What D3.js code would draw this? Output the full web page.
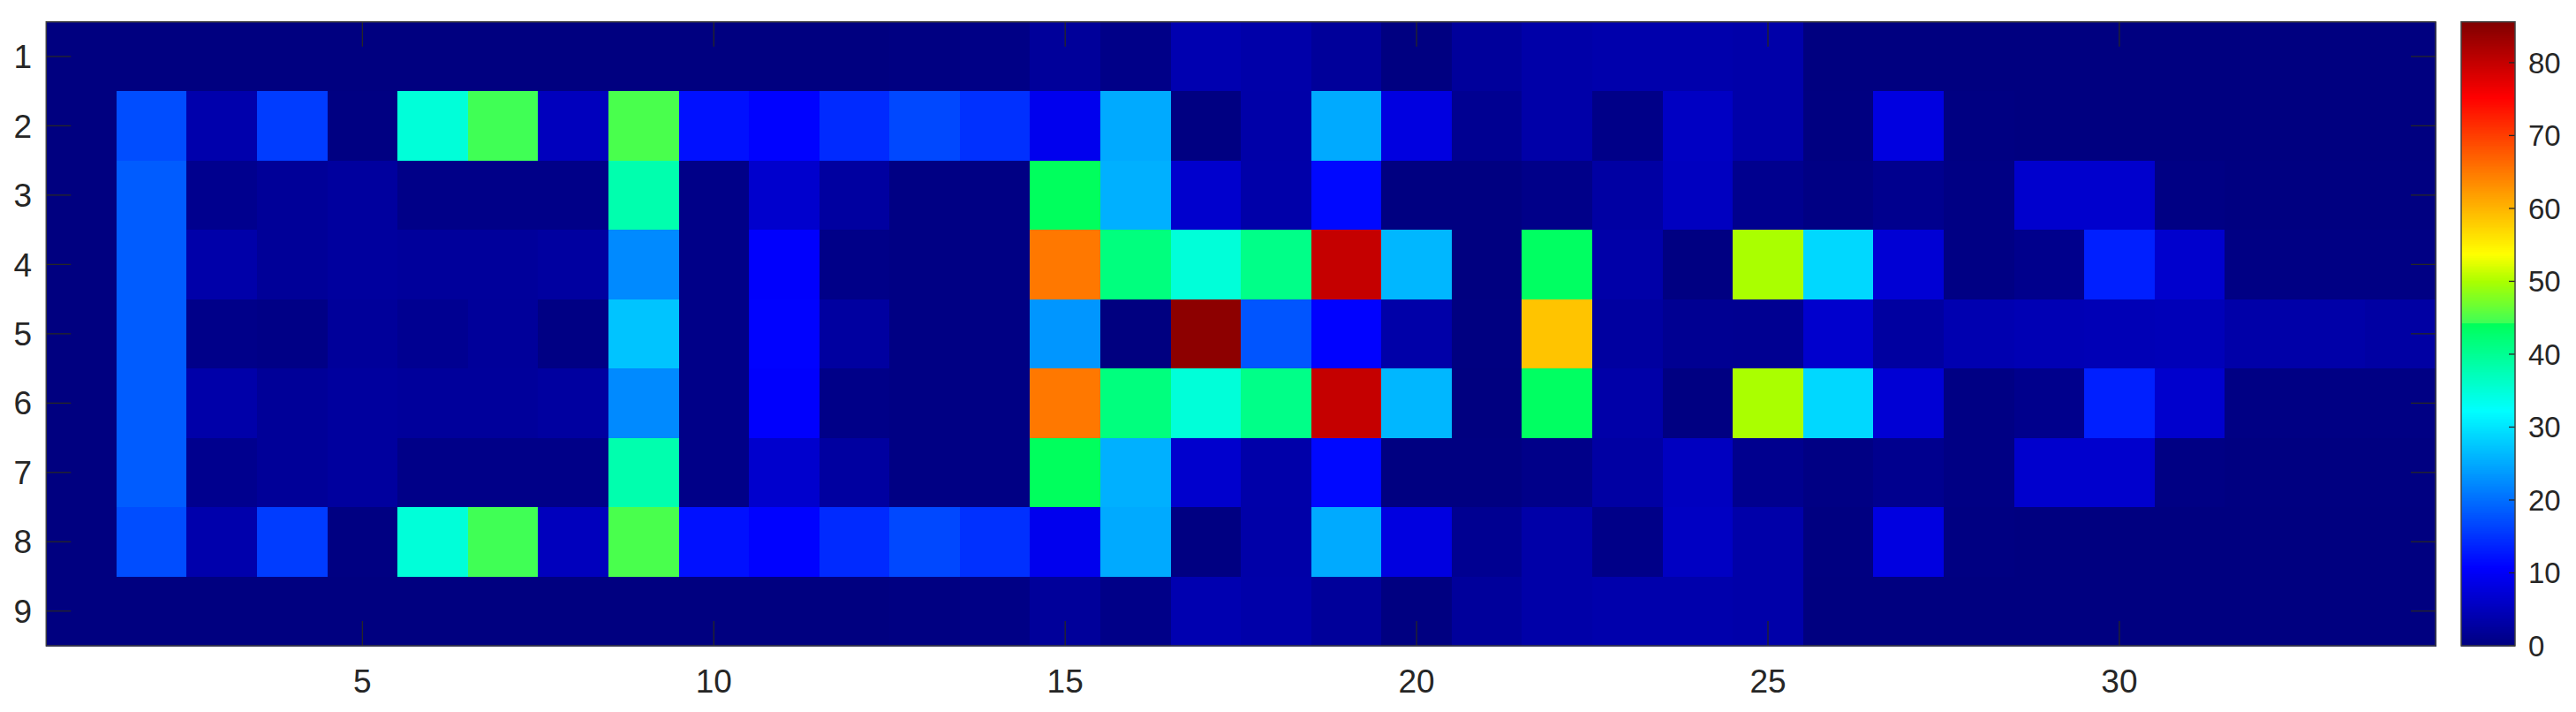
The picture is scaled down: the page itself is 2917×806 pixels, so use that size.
<!DOCTYPE html>
<html><head><meta charset="utf-8">
<script src="https://cdn.jsdelivr.net/npm/d3@7"></script>
<style>html,body{margin:0;padding:0;background:#fff;}svg{display:block;}</style>
</head><body>
<svg id="chart" width="2917" height="806"></svg>
<script>
// ---- data ----
const columns = d3.range(1, 35);           // 1..34
const rowsIdx = d3.range(1, 10);           // 1..9
const row1 = [0,0,0,0,0,0,0,0,0,0,0,0,0.2,0.5,2.2,0.7,4.1,3.5,2.2,0.1,2.3,3.4,3.7,3.7,3.5,0,0,0,0,0,0,0,0,0];
const row2 = [0,17.2,3.7,15.8,0.2,35,44.4,5.2,44.9,12.1,10.9,14.3,16.8,14.8,9.3,25.1,0.2,3.4,25.1,8.1,1.4,3.4,0.7,5.7,3.5,0.1,8.1,0.2,0,0,0,0,0,0];
const row3 = [0,18.5,1.2,2.0,2.5,0.7,0.7,0.7,38.1,0.7,6.5,2.7,0.3,0.3,44.0,25.6,6.5,3.5,11.4,0.1,0.1,0.8,3.0,5.4,1.2,0.3,1.2,0.3,6.5,6.5,0.3,0.1,0.1,0.1];
const row4 = [0,18.5,3.5,2.0,2.5,2.3,2.3,2.7,22.4,0.7,10.6,0.7,0.3,0.3,65.1,41.6,35,40.9,80,26.2,0,43.6,3.4,0.2,50,29,7.1,0.3,1.0,13.4,6.5,0.3,0.3,0.3];
const row5 = [0,18.5,0.8,0.5,2.2,1.4,2.2,0.3,27.3,0.7,10.9,2.7,0.3,0.3,23.4,0,84.5,17.9,10.9,3.4,0.1,58.7,2.7,1.5,1.4,6.5,2.7,4.1,4.4,4.6,4.7,3.4,3.4,3.0];
const row6 = row4.slice();
const row7 = row3.slice();
const row8 = row2.slice();
const row9 = row1.slice();
const matrix = [row1,row2,row3,row4,row5,row6,row7,row8,row9];
const xTicks = [5,10,15,20,25,30];
const cbTicks = [0,10,20,30,40,50,60,70,80];
const cMin = 0, cMax = 85.6;
// colormap stops (jet-like as seen in the reference colorbar)
const cmapStops  = [0, 10.75, 32.25, 44.2, 44.4, 50, 53.75, 75.25, 85.6];
const cmapColors = ["#000080","#0000ff","#00ffff","#00ff5a","#40ff55","#aaff00","#ffff00","#ff0000","#800000"];

// ---- layout ----
const svg = d3.select("#chart");
const L = 52.3, R = 2758, T = 24.7, B = 731;
const cbL = 2787, cbR = 2848;
const axisColor = "#262626";
const font = "'Liberation Sans', Arial, Helvetica, sans-serif";

const x = d3.scaleLinear().domain([0.5, 34.5]).range([L, R]);
const y = d3.scaleLinear().domain([0.5, 9.5]).range([T, B]);
const color = d3.scaleLinear().domain(cmapStops).range(cmapColors)
  .interpolate(d3.interpolateRgb).clamp(true);

const cells = [];
matrix.forEach((row, ri) => row.forEach((v, ci) => cells.push({r: rowsIdx[ri], c: columns[ci], v})));

svg.append("g").selectAll("rect").data(cells).join("rect")
  .attr("x", d => x(d.c - 0.5))
  .attr("y", d => y(d.r - 0.5))
  .attr("width", d => x(d.c + 0.5) - x(d.c - 0.5) + 0.6)
  .attr("height", d => y(d.r + 0.5) - y(d.r - 0.5) + 0.6)
  .attr("fill", d => color(d.v))
  .attr("shape-rendering", "crispEdges");

// ticks (inside, on all four sides)
const tl = 28;
const tg = svg.append("g").attr("stroke", axisColor).attr("stroke-width", 1.3);
xTicks.forEach(t => {
  tg.append("line").attr("x1", x(t)).attr("x2", x(t)).attr("y1", B).attr("y2", B - tl);
  tg.append("line").attr("x1", x(t)).attr("x2", x(t)).attr("y1", T).attr("y2", T + tl);
});
rowsIdx.forEach(t => {
  tg.append("line").attr("x1", L).attr("x2", L + tl).attr("y1", y(t)).attr("y2", y(t));
  tg.append("line").attr("x1", R).attr("x2", R - tl).attr("y1", y(t)).attr("y2", y(t));
});
// box
svg.append("rect").attr("x", L).attr("y", T).attr("width", R - L).attr("height", B - T)
  .attr("fill", "none").attr("stroke", "#404040").attr("stroke-width", 1.5);

// tick labels
svg.append("g").selectAll("text").data(xTicks).join("text")
  .attr("x", d => x(d)).attr("y", 784)
  .attr("text-anchor", "middle").attr("font-family", font).attr("font-size", 37)
  .attr("fill", axisColor).text(d => d);
svg.append("g").selectAll("text").data(rowsIdx).join("text")
  .attr("x", 36).attr("y", d => y(d)).attr("dy", "0.355em")
  .attr("text-anchor", "end").attr("font-family", font).attr("font-size", 37)
  .attr("fill", axisColor).text(d => d);

// colorbar
const cy = d3.scaleLinear().domain([cMin, cMax]).range([B, T]);
const nSteps = 400;
const steps = d3.range(nSteps).map(i => cMin + (cMax - cMin) * (i + 0.5) / nSteps);
const dv = (cMax - cMin) / nSteps;
svg.append("g").selectAll("rect").data(steps).join("rect")
  .attr("x", cbL).attr("width", cbR - cbL)
  .attr("y", d => cy(d + dv / 2)).attr("height", d => cy(d - dv / 2) - cy(d + dv / 2) + 0.5)
  .attr("fill", d => color(d)).attr("shape-rendering", "crispEdges");
const cbt = svg.append("g").attr("stroke", axisColor).attr("stroke-width", 1.3);
cbTicks.forEach(t => {
  cbt.append("line").attr("x1", cbR).attr("x2", cbR - 7).attr("y1", cy(t)).attr("y2", cy(t));
});
svg.append("rect").attr("x", cbL).attr("y", T).attr("width", cbR - cbL).attr("height", B - T)
  .attr("fill", "none").attr("stroke", "#404040").attr("stroke-width", 1.5);
svg.append("g").selectAll("text").data(cbTicks).join("text")
  .attr("x", 2863).attr("y", d => cy(d)).attr("dy", "0.355em")
  .attr("text-anchor", "start").attr("font-family", font).attr("font-size", 33)
  .attr("fill", axisColor).text(d => d);
</script>
</body></html>
